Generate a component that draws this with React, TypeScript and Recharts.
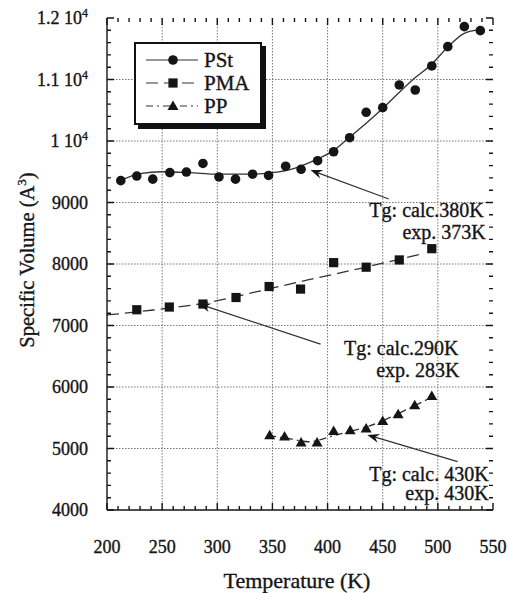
import React from 'react';
import { ComposedChart, Line, Scatter, XAxis, YAxis, ReferenceLine, CartesianGrid } from 'recharts';

// measured points (temperature K, specific volume A^3)
const pstT = [212.5, 227, 241.5, 257, 272, 287, 301.5, 316.5, 332, 346.5, 362, 376, 391, 405.5, 420, 435, 450, 465, 479.5, 494.5, 509, 524, 538.5];
const pstV = [9355, 9430, 9380, 9485, 9495, 9635, 9415, 9380, 9460, 9440, 9590, 9540, 9680, 9825, 10054, 10467, 10542, 10911, 10829, 11220, 11534, 11859, 11794];

const pmaT = [227, 256.5, 287, 317, 347, 375.5, 405.5, 435, 465, 494.5];
const pmaV = [7256, 7300, 7349, 7455, 7634, 7592, 8022, 7948, 8066, 8249];

const ppT = [347.5, 361, 376, 390.5, 405.5, 420.5, 435, 450, 464, 479, 494.5];
const ppV = [5216, 5195, 5098, 5098, 5286, 5297, 5325, 5448, 5556, 5702, 5853];

// fitted curves
const pstFitT = [212, 230, 250, 275, 300, 330, 350, 370, 390, 405, 420, 450, 478, 494, 509, 524, 538];
const pstFitV = [9355, 9470, 9500, 9485, 9460, 9460, 9485, 9556, 9700, 9840, 10060, 10530, 11010, 11240, 11530, 11750, 11810];

const pmaFitT = [200, 242, 291, 336, 382, 430, 485];
const pmaFitV = [7171, 7252, 7371, 7550, 7740, 7930, 8163];

const ppFitT = [347, 365, 383, 404, 425, 438, 453, 477, 494];
const ppFitV = [5210, 5160, 5110, 5200, 5300, 5366, 5475, 5680, 5830];

const xMajor = [200, 250, 300, 350, 400, 450, 500, 550];
const yMajor = [4000, 5000, 6000, 7000, 8000, 9000, 10000, 11000, 12000];

// annotations: tail (t, v), head (t, v), text lines
const notes = [
  { tail: [455.5, 9057], head: [384.5, 9528], lines: ['Tg: calc.380K', 'exp. 373K'], dx: [95, 97], dy: [18, 40] },
  { tail: [393.6, 6699], head: [283, 7350], lines: ['Tg: calc.290K', 'exp. 283K'], dx: [138, 139], dy: [11, 33] },
  { tail: [517.9, 4786], head: [436.1, 5220], lines: ['Tg: calc. 430K', 'exp. 430K'], dx: [31, 31], dy: [19, 38] },
];

const zip = (ts: number[], vs: number[]) => ts.map((t, i) => ({ t, v: vs[i] }));

const xTicks: number[] = [];
for (let i = 0; i < xMajor.length - 1; i++) for (let k = 0; k < 5; k++) xTicks.push(xMajor[i] + k * 10);
xTicks.push(xMajor[xMajor.length - 1]);
const yTicks: number[] = [];
for (let i = 0; i < yMajor.length - 1; i++) for (let k = 0; k < 5; k++) yTicks.push(yMajor[i] + k * 200);
yTicks.push(yMajor[yMajor.length - 1]);

const FONT = '"Liberation Serif", "Times New Roman", serif';
const INK = '#151515';
// scanned print looks a bit heavier than the plain font
const heavy = { stroke: INK, strokeWidth: 0.35 };

const BottomLabel = ({ x, y, payload }: any) =>
  xMajor.includes(payload.value) ? (
    <text x={x} y={y + 43} textAnchor="middle" fontFamily={FONT} fontSize={18} fill={INK} {...heavy}>
      {payload.value}
    </text>
  ) : (
    <g />
  );

const LeftLabel = ({ x, y, payload }: any) => {
  const v = payload.value;
  if (!yMajor.includes(v)) return <g />;
  return (
    <text x={x - 19} y={y + 6} textAnchor="end" fontFamily={FONT} fontSize={18} fill={INK} {...heavy}>
      {v >= 10000 ? (
        <>
          {`${v / 10000} 10`}
          <tspan dy={-7} fontSize={12}>4</tspan>
        </>
      ) : (
        v
      )}
    </text>
  );
};

// inward tick marks on both ends of a reference line
const tickShape = (len: number, vertical: boolean) => (props: any) => {
  const { x1, y1, x2, y2 } = props;
  if (vertical) {
    const top = Math.min(y1, y2);
    const bot = Math.max(y1, y2);
    return <path d={`M${x1},${top}v${len}M${x1},${bot}v${-len}`} stroke={INK} strokeWidth={1.4} fill="none" />;
  }
  const left = Math.min(x1, x2);
  const right = Math.max(x1, x2);
  return <path d={`M${left},${y1}h${len}M${right},${y1}h${-len}`} stroke={INK} strokeWidth={1.4} fill="none" />;
};

const Circle = ({ cx, cy }: any) => <circle cx={cx} cy={cy} r={4.8} fill={INK} />;
const Square = ({ cx, cy }: any) => <rect x={cx - 4.6} y={cy - 4.6} width={9.2} height={9.2} fill={INK} />;
const Triangle = ({ cx, cy }: any) => (
  <polygon points={`${cx},${cy - 5.5} ${cx - 5.5},${cy + 4} ${cx + 5.5},${cy + 4}`} fill={INK} />
);

const arrowShape = (note: any) => (props: any) => {
  const { x1, y1, x2, y2 } = props;
  const len = Math.hypot(x2 - x1, y2 - y1);
  const ux = (x2 - x1) / len;
  const uy = (y2 - y1) / len;
  const L = 12;
  const w = 4.5;
  const bx = x2 - ux * L;
  const by = y2 - uy * L;
  const nx = x2 - ux * (L - 4);
  const ny = y2 - uy * (L - 4);
  return (
    <g>
      <line x1={x1} y1={y1} x2={nx} y2={ny} stroke="#333" strokeWidth={1.3} />
      <polygon
        points={`${x2},${y2} ${bx - uy * w},${by + ux * w} ${nx},${ny} ${bx + uy * w},${by - ux * w}`}
        fill={INK}
      />
      {note.lines.map((s: string, i: number) => (
        <text key={i} x={x1 + note.dx[i]} y={y1 + note.dy[i]} textAnchor="end" fontFamily={FONT} fontSize={20} fill={INK} {...heavy}>
          {s}
        </text>
      ))}
    </g>
  );
};

function LegendBox() {
  const rows = [
    { name: 'PSt', dash: undefined, mark: <circle cx={37} cy={0} r={4.8} fill={INK} /> },
    { name: 'PMA', dash: '12 6', mark: <rect x={32.4} y={-4.6} width={9.2} height={9.2} fill={INK} /> },
    { name: 'PP', dash: '7 4 2 4', mark: <polygon points="37,-5.5 31.5,4 42.5,4" fill={INK} /> },
  ];
  return (
    <div
      style={{
        position: 'absolute',
        left: 134,
        top: 42,
        width: 124,
        height: 79,
        border: '2px solid #111',
        boxShadow: '4px 4px 0 #111',
        background: '#fff',
      }}
    >
      <svg width={124} height={79}>
        {rows.map((r, i) => (
          <g key={r.name} transform={`translate(0, ${16 + i * 23})`}>
            <line x1={10} x2={62} y1={0} y2={0} stroke="#333" strokeWidth={1.2} strokeDasharray={r.dash} />
            {r.mark}
            <text x={68} y={7} fontFamily={FONT} fontSize={21} fill={INK} {...heavy}>
              {r.name}
            </text>
          </g>
        ))}
      </svg>
    </div>
  );
}

export default function App() {
  return (
    <div style={{ position: 'absolute', left: 0, top: 0, width: 508, height: 593, background: '#fff', overflow: 'hidden' }}>
      <ComposedChart width={508} height={593} margin={{ top: 18, right: 15, bottom: 0, left: 0 }}>
        <CartesianGrid
          stroke="#777"
          strokeWidth={1}
          strokeDasharray="1.5 1.5"
          horizontalValues={yMajor.slice(1, -1)}
          verticalValues={xMajor.slice(1, -1)}
        />
        <XAxis
          dataKey="t"
          type="number"
          domain={[200, 550]}
          ticks={xTicks}
          interval={0}
          tickSize={0}
          tickMargin={0}
          tickLine={false}
          tick={<BottomLabel />}
          height={83}
          axisLine={{ stroke: INK, strokeWidth: 1.4 }}
          allowDataOverflow
        />
        <XAxis
          xAxisId="top"
          orientation="top"
          dataKey="t"
          type="number"
          domain={[200, 550]}
          tick={false}
          tickLine={false}
          height={0}
          axisLine={{ stroke: INK, strokeWidth: 1.4 }}
          allowDataOverflow
        />
        <YAxis
          type="number"
          domain={[4000, 12000]}
          ticks={yTicks}
          interval={0}
          tickSize={0}
          tickMargin={0}
          tickLine={false}
          tick={<LeftLabel />}
          width={107}
          axisLine={{ stroke: INK, strokeWidth: 1.4 }}
          allowDataOverflow
        />
        <YAxis
          yAxisId="right"
          orientation="right"
          type="number"
          domain={[4000, 12000]}
          tick={false}
          tickLine={false}
          width={0}
          axisLine={{ stroke: INK, strokeWidth: 1.4 }}
          allowDataOverflow
        />

        {xTicks.map((t) => (
          <ReferenceLine key={`tx${t}`} x={t} ifOverflow="visible" shape={tickShape(xMajor.includes(t) ? 7 : 4, true)} />
        ))}
        {yTicks.map((t) => (
          <ReferenceLine key={`ty${t}`} y={t} ifOverflow="visible" shape={tickShape(yMajor.includes(t) ? 7 : 4, false)} />
        ))}

        <Line data={zip(pstFitT, pstFitV)} dataKey="v" type="monotone" stroke="#333" strokeWidth={1.3} dot={false} activeDot={false} isAnimationActive={false} />
        <Line data={zip(pmaFitT, pmaFitV)} dataKey="v" type="monotone" stroke="#333" strokeWidth={1.3} strokeDasharray="12 6" dot={false} activeDot={false} isAnimationActive={false} />
        <Line data={zip(ppFitT, ppFitV)} dataKey="v" type="monotone" stroke="#333" strokeWidth={1.3} strokeDasharray="7 4 2 4" dot={false} activeDot={false} isAnimationActive={false} />

        <Scatter data={zip(pstT, pstV)} dataKey="v" shape={<Circle />} isAnimationActive={false} />
        <Scatter data={zip(pmaT, pmaV)} dataKey="v" shape={<Square />} isAnimationActive={false} />
        <Scatter data={zip(ppT, ppV)} dataKey="v" shape={<Triangle />} isAnimationActive={false} />

        {notes.map((n, i) => (
          <ReferenceLine
            key={`note${i}`}
            segment={[{ x: n.tail[0], y: n.tail[1] }, { x: n.head[0], y: n.head[1] }]}
            shape={arrowShape(n)}
            ifOverflow="visible"
          />
        ))}
      </ComposedChart>

      <div
        style={{
          position: 'absolute',
          left: 27,
          top: 260,
          transform: 'translate(-50%, -50%) rotate(-90deg)',
          whiteSpace: 'nowrap',
          fontFamily: FONT,
          fontSize: 20.5,
          lineHeight: '22px',
          color: INK,
          WebkitTextStroke: '0.35px #151515',
        }}
      >
        Specific Volume (A<sup style={{ fontSize: 13, lineHeight: 0 }}>3</sup>)
      </div>
      <div
        style={{
          position: 'absolute',
          left: 297,
          top: 570,
          transform: 'translateX(-50%)',
          whiteSpace: 'nowrap',
          fontFamily: FONT,
          fontSize: 22,
          lineHeight: '22px',
          color: INK,
          WebkitTextStroke: '0.35px #151515',
        }}
      >
        Temperature (K)
      </div>
      <LegendBox />
    </div>
  );
}
